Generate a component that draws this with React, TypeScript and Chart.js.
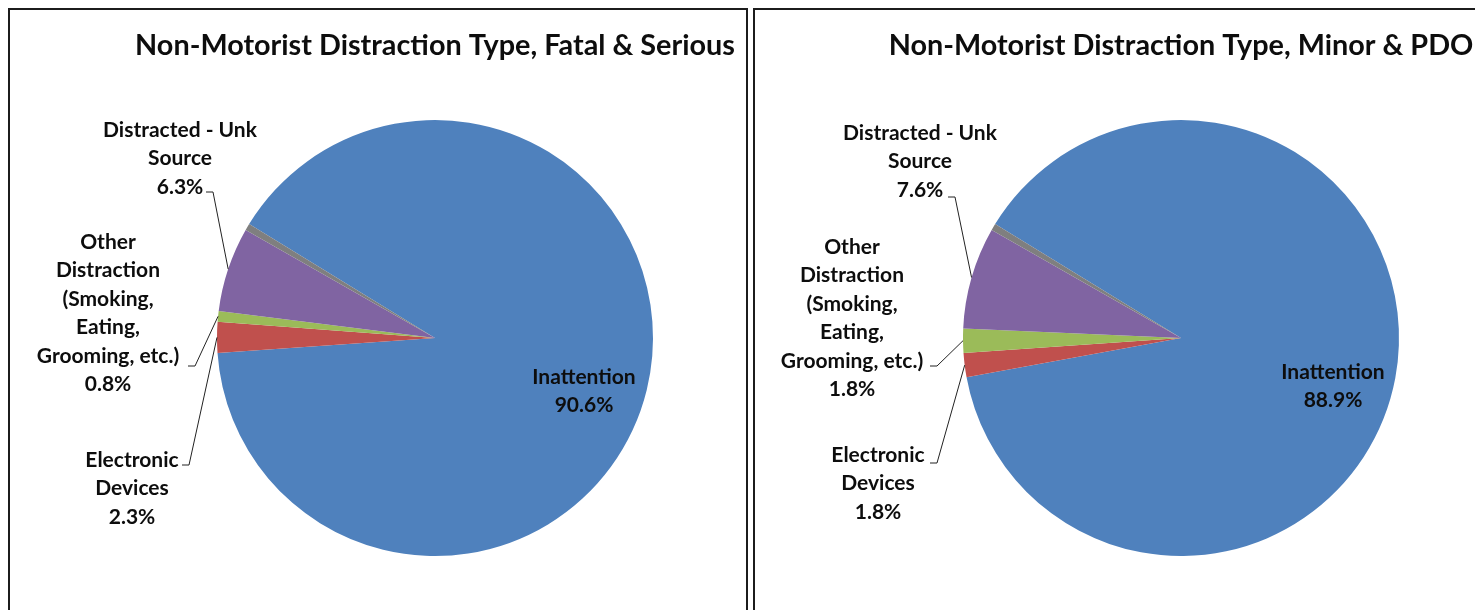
import React, { useEffect, useRef } from "react";
import { Chart, registerables } from "chart.js";

Chart.register(...registerables);

// ---- data ----
const categories = [
  "Inattention",
  "Electronic Devices",
  "Other Distraction (Smoking, Eating, Grooming, etc.)",
  "Distracted - Unk Source",
  "Unknown",
];
const categoryLabelLines = [
  ["Inattention"],
  ["Electronic", "Devices"],
  ["Other", "Distraction", "(Smoking,", "Eating,", "Grooming, etc.)"],
  ["Distracted - Unk", "Source"],
  [],
];
const fatalSeriousValues = [90.6, 2.3, 0.8, 6.3, 0.5];
const minorPdoValues = [88.9, 1.8, 1.8, 7.6, 0.5];
const fatalSeriousTitle = "Non-Motorist Distraction Type, Fatal & Serious";
const minorPdoTitle = "Non-Motorist Distraction Type, Minor & PDO";

// ---- styles ----
const sliceColors = ["#4F81BD", "#C0504D", "#9BBB59", "#8064A2", "#7F7F7F"];
const FONT = "Lato, 'Open Sans', sans-serif";
const LABEL_SIZE = 21;
const TITLE_SIZE = 28.8;
const TITLE_Y = 36;
const LINE_H = 28.5;

type LabelPos = { dx: number; dy: number; ax?: number; ay?: number } | null;

const fatalLayout: LabelPos[] = [
  { dx: 149, dy: 39 },
  { dx: -303, dy: 122, ax: -253, ay: 127 },
  { dx: -327, dy: -96, ax: -247, ay: 28 },
  { dx: -255, dy: -208, ax: -229, ay: -146 },
  null,
];
const minorLayout: LabelPos[] = [
  { dx: 152, dy: 34 },
  { dx: -303, dy: 117, ax: -251, ay: 125 },
  { dx: -329, dy: -91, ax: -251, ay: 28 },
  { dx: -261, dy: -205, ax: -233, ay: -141 },
  null,
];

function makeLabelPlugin(values: number[], layout: LabelPos[], title: string) {
  return {
    id: "pieLabels",
    afterDatasetsDraw(chart: any) {
      const ctx = chart.ctx;
      const meta = chart.getDatasetMeta(0);
      ctx.save();
      // title, centred over the pie
      const first = meta.data[0] as any;
      ctx.font = `bold ${TITLE_SIZE}px ${FONT}`;
      ctx.fillStyle = "#0d0d0d";
      ctx.textAlign = "center";
      ctx.textBaseline = "middle";
      ctx.fillText(title, first.x, TITLE_Y);

      ctx.font = `bold ${LABEL_SIZE}px ${FONT}`;
      layout.forEach((pos, i) => {
        if (!pos) return;
        const arc = meta.data[i] as any;
        const { x, y, startAngle, endAngle, outerRadius } = arc.getProps(
          ["x", "y", "startAngle", "endAngle", "outerRadius"],
          true
        );
        const lines = [...categoryLabelLines[i], values[i].toFixed(1) + "%"];
        lines.forEach((t, k) => {
          ctx.fillText(t, x + pos.dx, y + pos.dy + k * LINE_H);
        });
        if (pos.ax !== undefined && pos.ay !== undefined) {
          const mid = (startAngle + endAngle) / 2;
          const ex = x + outerRadius * Math.cos(mid);
          const ey = y + outerRadius * Math.sin(mid);
          ctx.beginPath();
          ctx.strokeStyle = "#222222";
          ctx.lineWidth = 1;
          ctx.moveTo(x + pos.ax, y + pos.ay);
          ctx.lineTo(x + pos.ax + 7, y + pos.ay);
          ctx.lineTo(ex, ey);
          ctx.stroke();
        }
      });
      ctx.restore();
    },
  };
}

function PieBox(props: {
  left: number;
  title: string;
  values: number[];
  layout: LabelPos[];
  padLeft: number;
  padRight: number;
}) {
  const ref = useRef<HTMLCanvasElement | null>(null);
  useEffect(() => {
    if (!ref.current) return;
    const chart = new Chart(ref.current, {
      type: "pie",
      data: {
        labels: categories,
        datasets: [
          {
            data: props.values,
            backgroundColor: sliceColors,
            borderWidth: 0,
          },
        ],
      },
      options: {
        responsive: false,
        animation: false,
        rotation: -58.5,
        radius: 218,
        layout: {
          padding: { top: 110, bottom: 54, left: props.padLeft, right: props.padRight },
        },
        plugins: {
          legend: { display: false },
          tooltip: { enabled: false },
          title: { display: false },
        },
      },
      plugins: [makeLabelPlugin(props.values, props.layout, props.title)],
    });
    return () => chart.destroy();
  }, []);
  return (
    <div
      style={{
        position: "absolute",
        left: props.left,
        top: 8,
        width: 736,
        height: 620,
        border: "2px solid #1c1c1c",
        background: "#ffffff",
      }}
    >
      <canvas ref={ref} width={736} height={600} style={{ display: "block" }} />
    </div>
  );
}

export default function App() {
  return (
    <div
      style={{
        position: "fixed",
        left: 0,
        top: 0,
        width: 1475,
        height: 610,
        overflow: "hidden",
        background: "#ffffff",
      }}
    >
      <PieBox
        left={8}
        title={fatalSeriousTitle}
        values={fatalSeriousValues}
        layout={fatalLayout}
        padLeft={150}
        padRight={36}
      />
      <PieBox
        left={753}
        title={minorPdoTitle}
        values={minorPdoValues}
        layout={minorLayout}
        padLeft={151}
        padRight={35}
      />
    </div>
  );
}
